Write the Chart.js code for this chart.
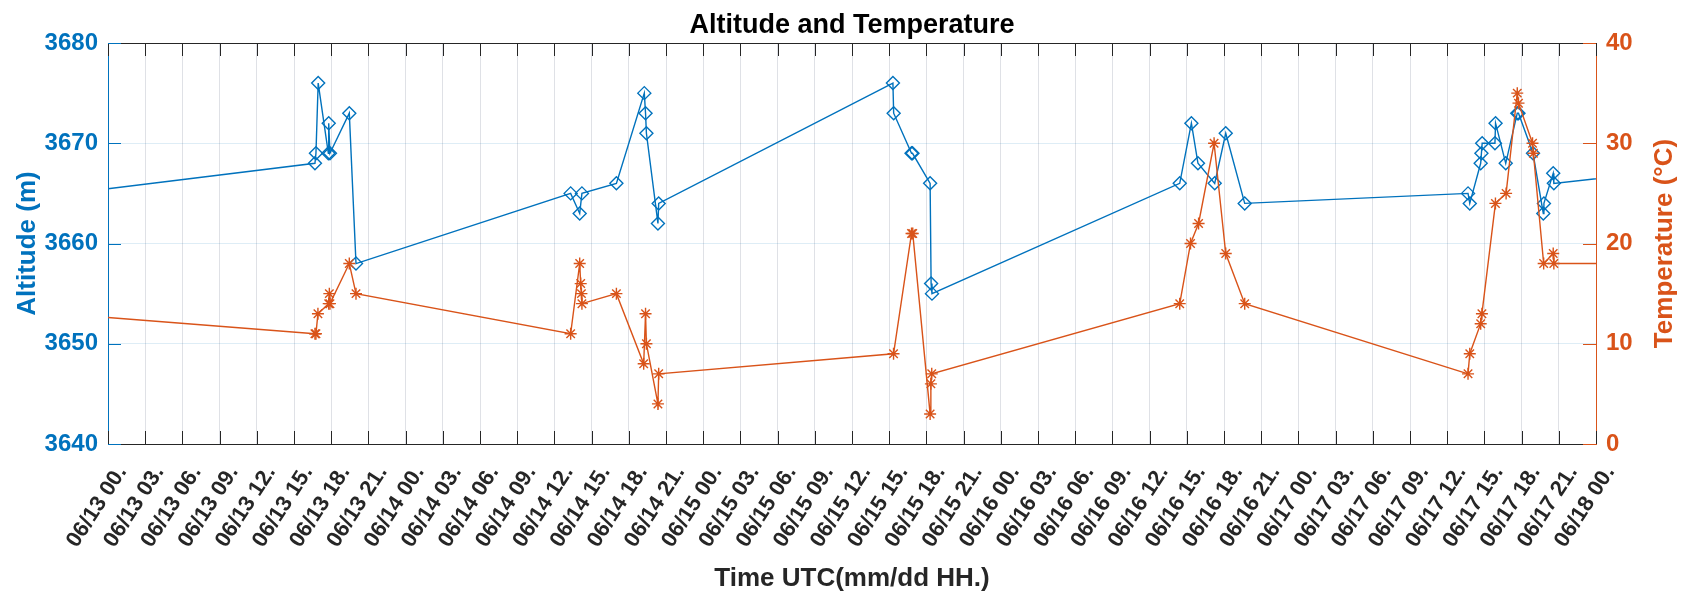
<!DOCTYPE html>
<html>
<head>
<meta charset="utf-8">
<script src="https://cdn.jsdelivr.net/npm/chart.js@4/dist/chart.umd.min.js"></script>
<style>
  html, body { margin: 0; padding: 0; background: #ffffff; }
  #wrap { width: 1683px; height: 594px; }
</style>
</head>
<body>
<div id="wrap"><canvas id="c" width="1683" height="594"></canvas></div>
<script>
// ---- tick labels (hours since 06/13 00 UTC, every 3 h) ----
const xTickLabels = [
  '06/13 00.', '06/13 03.', '06/13 06.', '06/13 09.', '06/13 12.', '06/13 15.', '06/13 18.', '06/13 21.',
  '06/14 00.', '06/14 03.', '06/14 06.', '06/14 09.', '06/14 12.', '06/14 15.', '06/14 18.', '06/14 21.',
  '06/15 00.', '06/15 03.', '06/15 06.', '06/15 09.', '06/15 12.', '06/15 15.', '06/15 18.', '06/15 21.',
  '06/16 00.', '06/16 03.', '06/16 06.', '06/16 09.', '06/16 12.', '06/16 15.', '06/16 18.', '06/16 21.',
  '06/17 00.', '06/17 03.', '06/17 06.', '06/17 09.', '06/17 12.', '06/17 15.', '06/17 18.', '06/17 21.',
  '06/18 00.'
];
const altTicks = [3640, 3650, 3660, 3670, 3680];
const tempTicks = [0, 10, 20, 30, 40];
const chartTitle = 'Altitude and Temperature';

// ---- Altitude series (time in hours since 06/13 00 UTC) ----
const altTimes = [-9,
  16.69, 16.77, 16.95, 17.77, 17.8, 17.9, 19.46, 20.0,
  37.31, 38.04, 38.22, 41.0, 43.25, 43.35, 43.42, 44.35, 44.41,
  63.3, 63.36, 64.8, 64.88, 66.3, 66.38, 66.45,
  86.43, 87.37, 87.9, 89.25, 90.14, 91.67,
  109.68, 109.82, 110.7, 110.76, 110.82, 111.85, 111.9, 112.72, 113.65, 113.75, 114.92, 115.75, 115.8, 116.55, 116.6,
  130];
const altValues = [3664.1,
  3668, 3669, 3676, 3669, 3672, 3669, 3673, 3658,
  3665, 3663, 3665, 3666, 3675, 3673, 3671, 3662, 3664,
  3676, 3673, 3669, 3669, 3666, 3656, 3655,
  3666, 3672, 3668, 3666, 3671, 3664,
  3665, 3664, 3668, 3669, 3670, 3670, 3672, 3668, 3673, 3673, 3669, 3663, 3664, 3667, 3666,
  3667.8];

// ---- Temperature series ----
const tempTimes = [-9,
  16.69, 16.77, 16.93, 17.8, 17.85, 17.9, 19.46, 20.0,
  37.31, 38.04, 38.12, 38.18, 38.22, 41.0, 43.2, 43.35, 43.42, 44.35, 44.41,
  63.35, 64.8, 64.9, 66.3, 66.36, 66.43,
  86.43, 87.3, 87.95, 89.2, 90.14, 91.67,
  109.68, 109.82, 110.7, 110.8, 111.89, 112.75, 113.65, 113.75, 114.88, 114.95, 115.78, 116.55, 116.6,
  130];
const tempValues = [13.5,
  11, 11, 13, 14, 15, 14, 18, 15,
  11, 18, 16, 15, 14, 15, 8, 13, 10, 4, 7,
  9, 21, 21, 3, 6, 7,
  14, 20, 22, 30, 19, 14,
  7, 9, 12, 13, 24, 25, 35, 34, 30, 29, 18, 19, 18,
  18];

const BLUE = '#0072BD';
const ORANGE = '#D95319';
const DARK = '#262626';
const FONT = '"Liberation Sans", Arial, Helvetica, sans-serif';

const altData = altTimes.map((t, i) => ({x: t, y: altValues[i]}));
const tempData = tempTimes.map((t, i) => ({x: t, y: tempValues[i]}));

const TICKLEN = 13;

const matlabAxes = {
  id: 'matlabAxes',
  afterDraw(chart) {
    const {ctx, chartArea: a, scales} = chart;
    ctx.save();
    ctx.lineWidth = 1;
    // top box line
    ctx.strokeStyle = DARK;
    ctx.beginPath();
    ctx.moveTo(a.left, Math.round(a.top) + 0.5);
    ctx.lineTo(a.right, Math.round(a.top) + 0.5);
    ctx.stroke();
    // x ticks (inward, top and bottom)
    scales.x.ticks.forEach(t => {
      const px = Math.round(scales.x.getPixelForValue(t.value)) + 0.5;
      ctx.beginPath();
      ctx.moveTo(px, a.bottom); ctx.lineTo(px, a.bottom - TICKLEN);
      ctx.moveTo(px, a.top); ctx.lineTo(px, a.top + TICKLEN);
      ctx.stroke();
    });
    // left y ticks
    ctx.strokeStyle = BLUE;
    scales.y.ticks.forEach(t => {
      const py = Math.round(scales.y.getPixelForValue(t.value)) + 0.5;
      ctx.beginPath(); ctx.moveTo(a.left, py); ctx.lineTo(a.left + TICKLEN, py); ctx.stroke();
    });
    // right y ticks
    ctx.strokeStyle = ORANGE;
    scales.y1.ticks.forEach(t => {
      const py = Math.round(scales.y1.getPixelForValue(t.value)) + 0.5;
      ctx.beginPath(); ctx.moveTo(a.right - TICKLEN, py); ctx.lineTo(a.right, py); ctx.stroke();
    });
    // chart title, centred over the plot box (as MATLAB does)
    ctx.fillStyle = '#000000';
    ctx.font = 'bold 27px ' + FONT;
    ctx.textAlign = 'center';
    ctx.textBaseline = 'alphabetic';
    ctx.fillText(chartTitle, (a.left + a.right) / 2, 32.5);
    // right axis title (reads bottom-to-top like MATLAB)
    ctx.fillStyle = ORANGE;
    ctx.font = 'bold 26px ' + FONT;
    ctx.textAlign = 'center';
    ctx.textBaseline = 'middle';
    ctx.translate(1665, (a.top + a.bottom) / 2);
    ctx.rotate(-Math.PI / 2);
    ctx.fillText('Temperature (\u00B0C)', 0, 0);
    ctx.restore();
  }
};

new Chart(document.getElementById('c'), {
  type: 'line',
  data: {
    datasets: [
      {
        label: 'Temperature',
        data: tempData,
        yAxisID: 'y1',
        borderColor: ORANGE,
        backgroundColor: ORANGE,
        borderWidth: 1.4,
        pointStyle: 'star',
        pointRadius: 6,
        pointBorderWidth: 1.4,
        pointBorderColor: ORANGE,
        tension: 0,
        order: 0
      },
      {
        label: 'Altitude',
        data: altData,
        yAxisID: 'y',
        borderColor: BLUE,
        backgroundColor: 'rgba(0,0,0,0)',
        borderWidth: 1.4,
        pointStyle: 'rectRot',
        pointRadius: 6.5,
        pointBorderWidth: 1.4,
        pointBorderColor: BLUE,
        pointBackgroundColor: 'rgba(0,0,0,0)',
        tension: 0,
        order: 1
      }
    ]
  },
  options: {
    responsive: false,
    devicePixelRatio: 1,
    animation: false,
    events: [],
    layout: { padding: { top: 43, left: 0, right: 0, bottom: 0 } },
    plugins: {
      legend: { display: false },
      tooltip: { enabled: false },
      title: { display: false }
    },
    scales: {
      x: {
        type: 'linear',
        min: 0,
        max: 120,
        afterFit(scale) { scale.height = 150; },
        afterBuildTicks(scale) {
          scale.ticks = xTickLabels.map((_, i) => ({ value: i * 3 }));
        },
        ticks: {
          autoSkip: false,
          minRotation: 57,
          maxRotation: 57,
          padding: 17,
          labelOffset: 14,
          color: DARK,
          font: { family: FONT, size: 22, weight: 'bold', lineHeight: 1.2 },
          callback: (v) => xTickLabels[Math.round(v / 3)]
        },
        grid: { color: '#dfe1e6', lineWidth: 1, drawTicks: false },
        border: { display: true, color: DARK, width: 1 },
        title: {
          display: true,
          text: 'Time UTC(mm/dd HH.)',
          color: DARK,
          font: { family: FONT, size: 26, weight: 'bold', lineHeight: 1.2 },
          padding: { top: 0, bottom: 0 }
        }
      },
      y: {
        position: 'left',
        min: 3640,
        max: 3680,
        afterFit(scale) { scale.width = 108; },
        afterBuildTicks(scale) { scale.ticks = altTicks.map(v => ({ value: v })); },
        ticks: {
          padding: 10,
          color: BLUE,
          font: { family: FONT, size: 24, weight: 'bold' },
          callback: (v) => String(v)
        },
        grid: { color: 'rgba(0,114,189,0.13)', lineWidth: 1, drawTicks: false },
        border: { display: true, color: BLUE, width: 1 },
        title: {
          display: true,
          text: 'Altitude (m)',
          color: BLUE,
          font: { family: FONT, size: 26, weight: 'bold', lineHeight: 1.2 },
          padding: { top: 12, bottom: 0 }
        }
      },
      y1: {
        position: 'right',
        min: 0,
        max: 40,
        afterFit(scale) { scale.width = 87; },
        afterBuildTicks(scale) { scale.ticks = tempTicks.map(v => ({ value: v })); },
        ticks: {
          padding: 10,
          color: ORANGE,
          font: { family: FONT, size: 24, weight: 'bold' },
          callback: (v) => String(v)
        },
        grid: { drawOnChartArea: false, drawTicks: false },
        border: { display: true, color: ORANGE, width: 1 }
      }
    }
  },
  plugins: [matlabAxes]
});
</script>
</body>
</html>
